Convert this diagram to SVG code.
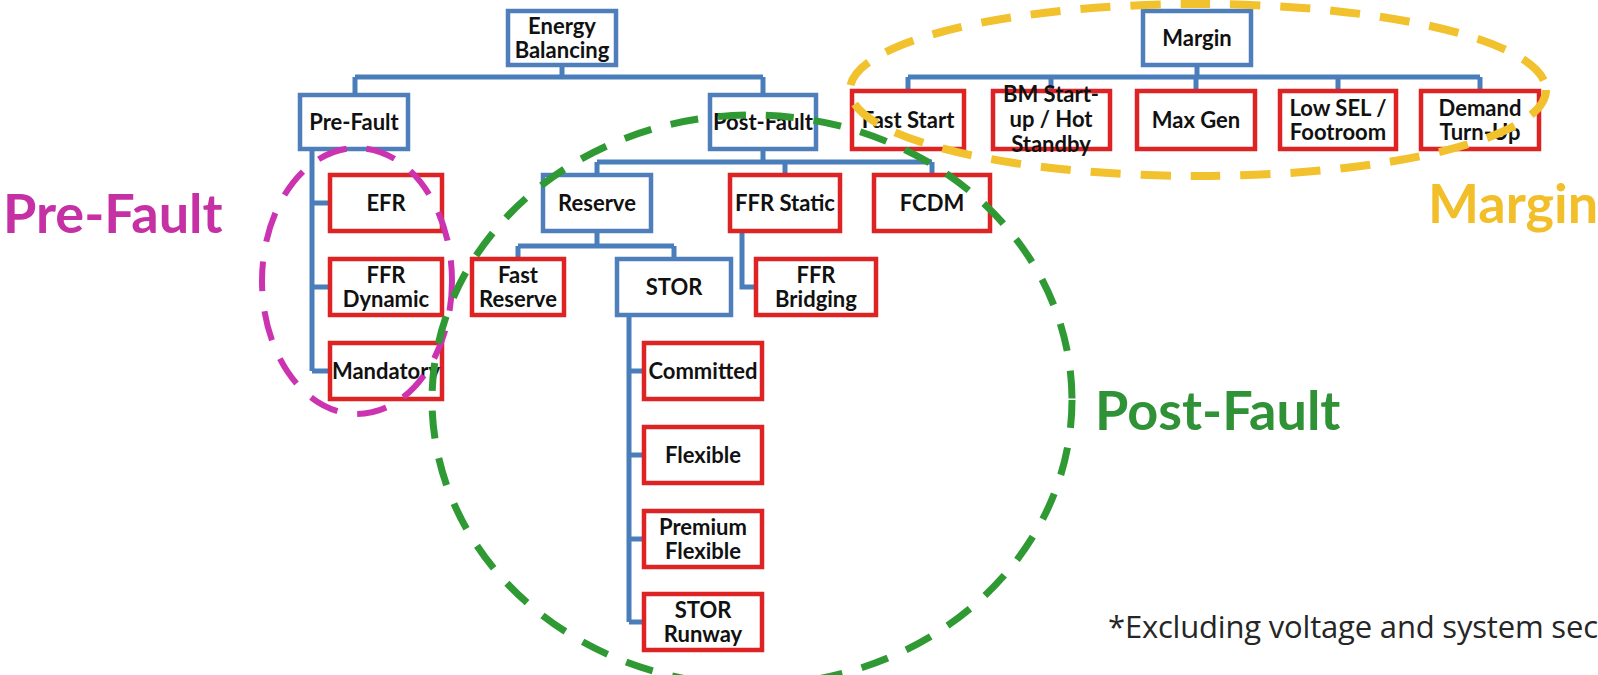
<svg xmlns="http://www.w3.org/2000/svg" width="1598" height="675" viewBox="0 0 1598 675">
<style>
.bg{fill:#ffffff}
.blue{fill:#ffffff;stroke:#4f7fbb;stroke-width:4.5}
.red{fill:#ffffff;stroke:#dd2323;stroke-width:4.5}
.t{font-family:Lato,"Open Sans",sans-serif;font-weight:bold;font-size:22px;fill:#111111;text-anchor:middle}
.conn{stroke:#4a7ebb;stroke-width:5;fill:none}
.big{font-family:Lato,"Open Sans",sans-serif;font-weight:bold;font-size:54px}
.ring{fill:none}
</style>
<rect class="bg" x="0" y="0" width="1598" height="675"/>
<g id="connectors">
<path class="conn" d="M562 65V77M355 77H763M355 77V95M763 77V95"/>
<path class="conn" d="M312 149V371M312 203H330M312 287H330M312 371H330"/>
<path class="conn" d="M763 149V162M597 162H932M597 162V175M785 162V175M932 162V175"/>
<path class="conn" d="M597 231V246M518 246H674M518 246V259M674 246V259"/>
<path class="conn" d="M742 231V287H756"/>
<path class="conn" d="M629 315V622M629 371H644M629 455H644M629 539H644M629 622H644"/>
<path class="conn" d="M1197 65V77M908 77H1480M908 77V91M1051 77V91M1196 77V91M1338 77V91M1480 77V91"/>
</g>
<g id="energy-balancing"><rect class="blue" x="508" y="11" width="108" height="54"/><text class="t" x="562" y="34">Energy</text><text class="t" x="562" y="58">Balancing</text></g>
<g id="pre-fault"><rect class="blue" x="300" y="95" width="108" height="54"/><text class="t" x="354" y="130">Pre-Fault</text></g>
<g id="post-fault"><rect class="blue" x="710" y="95" width="106" height="54"/><text class="t" x="763" y="130">Post-Fault</text></g>
<g id="efr"><rect class="red" x="330" y="175" width="112" height="56"/><text class="t" x="386" y="211">EFR</text></g>
<g id="ffr-dynamic"><rect class="red" x="330" y="259" width="112" height="56"/><text class="t" x="386" y="283">FFR</text><text class="t" x="386" y="307">Dynamic</text></g>
<g id="mandatory"><rect class="red" x="330" y="343" width="112" height="56"/><text class="t" x="386" y="379">Mandatory</text></g>
<g id="reserve"><rect class="blue" x="543" y="175" width="108" height="56"/><text class="t" x="597" y="211">Reserve</text></g>
<g id="ffr-static"><rect class="red" x="730" y="175" width="110" height="56"/><text class="t" x="785" y="211">FFR Static</text></g>
<g id="fcdm"><rect class="red" x="874" y="175" width="116" height="56"/><text class="t" x="932" y="211">FCDM</text></g>
<g id="fast-reserve"><rect class="red" x="472" y="259" width="92" height="56"/><text class="t" x="518" y="283">Fast</text><text class="t" x="518" y="307">Reserve</text></g>
<g id="stor"><rect class="blue" x="617" y="259" width="114" height="56"/><text class="t" x="674" y="295">STOR</text></g>
<g id="ffr-bridging"><rect class="red" x="756" y="259" width="120" height="56"/><text class="t" x="816" y="283">FFR</text><text class="t" x="816" y="307">Bridging</text></g>
<g id="committed"><rect class="red" x="644" y="343" width="118" height="56"/><text class="t" x="703" y="379">Committed</text></g>
<g id="flexible"><rect class="red" x="644" y="427" width="118" height="56"/><text class="t" x="703" y="463">Flexible</text></g>
<g id="premium-flexible"><rect class="red" x="644" y="511" width="118" height="56"/><text class="t" x="703" y="535">Premium</text><text class="t" x="703" y="559">Flexible</text></g>
<g id="stor-runway"><rect class="red" x="644" y="594" width="118" height="56"/><text class="t" x="703" y="618">STOR</text><text class="t" x="703" y="642">Runway</text></g>
<g id="margin"><rect class="blue" x="1143" y="11" width="108" height="54"/><text class="t" x="1197" y="46">Margin</text></g>
<g id="fast-start"><rect class="red" x="852" y="91" width="112" height="58"/><text class="t" x="908" y="128">Fast Start</text></g>
<g id="bm-start-up"><rect class="red" x="993" y="91" width="117" height="58"/><text class="t" x="1051" y="102">BM Start-</text><text class="t" x="1051" y="127">up / Hot</text><text class="t" x="1051" y="152">Standby</text></g>
<g id="max-gen"><rect class="red" x="1137" y="91" width="118" height="58"/><text class="t" x="1196" y="128">Max Gen</text></g>
<g id="low-sel"><rect class="red" x="1280" y="91" width="116" height="58"/><text class="t" x="1338" y="116">Low SEL /</text><text class="t" x="1338" y="140">Footroom</text></g>
<g id="demand-turn-up"><rect class="red" x="1421" y="91" width="118" height="58"/><text class="t" x="1480" y="116">Demand</text><text class="t" x="1480" y="140">Turn-Up</text></g>
<g id="groupings">
<ellipse class="ring" cx="357" cy="281" rx="95" ry="133" stroke="#cc33b0" stroke-width="6" stroke-dasharray="30 20"/>
<ellipse class="ring" cx="752" cy="400" rx="320" ry="285" stroke="#2f9a33" stroke-width="7" stroke-dasharray="28 20"/>
<ellipse class="ring" cx="1198" cy="90" rx="348" ry="86" stroke="#f2c12e" stroke-width="8" stroke-dasharray="30 20"/>
</g>
<g id="labels">
<text class="big" x="3" y="233" fill="#c531a5">Pre-Fault</text>
<text class="big" x="1095" y="430" fill="#2f9236">Post-Fault</text>
<text class="big" x="1428" y="223" fill="#f2bf2a">Margin</text>
<text x="1108" y="638" font-family="'Open Sans',Lato,sans-serif" font-size="31" fill="#262626" textLength="490" lengthAdjust="spacing">*Excluding voltage and system sec</text>
</g>
</svg>
